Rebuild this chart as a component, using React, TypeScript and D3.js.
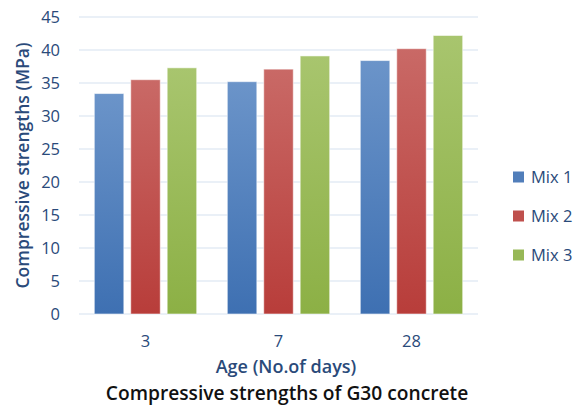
import React from "react";
import * as d3 from "d3";

const ages = ["3", "7", "28"];
const mixes = ["Mix 1", "Mix 2", "Mix 3"];
const mix1 = [33.4, 35.2, 38.4];
const mix2 = [35.5, 37.1, 40.2];
const mix3 = [37.3, 39.1, 42.2];
const yTicks = [0, 5, 10, 15, 20, 25, 30, 35, 40, 45];

const seriesValues = [mix1, mix2, mix3];
const topColors = ["#6b94c9", "#c96966", "#a8c56e"];
const bottomColors = ["#3e70b2", "#b83d3a", "#8cb045"];

const W = 574;
const H = 406;
const margin = { left: 79, right: 96, top: 17, bottom: 92 };
const textBlue = "#2a4a7a";
const font = "'Open Sans', 'Noto Sans', sans-serif";

export default function App() {
  const x0 = d3
    .scaleBand<string>()
    .domain(ages)
    .range([margin.left, W - margin.right])
    .paddingInner(0)
    .paddingOuter(0);
  const x1 = d3
    .scaleBand<string>()
    .domain(mixes)
    .range([0, x0.bandwidth()])
    .paddingInner(0.19)
    .paddingOuter(0.42);
  const y = d3
    .scaleLinear()
    .domain([0, 45])
    .range([H - margin.bottom, margin.top]);

  return (
    <svg
      width={W}
      height={H}
      style={{ position: "absolute", left: 0, top: 0, background: "#fff" }}
      fontFamily={font}
    >
      <defs>
        {mixes.map((m, i) => (
          <linearGradient key={m} id={`grad${i}`} x1="0" y1="0" x2="0" y2="1">
            <stop offset="0%" stopColor={topColors[i]} />
            <stop offset="100%" stopColor={bottomColors[i]} />
          </linearGradient>
        ))}
      </defs>

      {/* horizontal gridlines */}
      {yTicks.map((t) => (
        <line
          key={t}
          x1={margin.left}
          x2={W - margin.right}
          y1={y(t)}
          y2={y(t)}
          stroke="#d6e1ef"
          strokeWidth={1.2}
        />
      ))}

      {/* y tick labels */}
      {yTicks.map((t) => (
        <text
          key={t}
          x={60}
          y={y(t)}
          dy="0.36em"
          textAnchor="end"
          fontSize={16.5}
          fill={textBlue}
        >
          {t}
        </text>
      ))}

      {/* bars */}
      {ages.map((a, gi) => (
        <g key={a} transform={`translate(${x0(a)},0)`}>
          {mixes.map((m, si) => {
            const v = seriesValues[si][gi];
            return (
              <rect
                key={m}
                x={x1(m)}
                y={y(v)}
                width={x1.bandwidth()}
                height={y(0) - y(v)}
                fill={`url(#grad${si})`}
                stroke="#ffffff"
                strokeOpacity={0.55}
                strokeWidth={1}
              />
            );
          })}
        </g>
      ))}

      {/* x tick labels */}
      {ages.map((a) => (
        <text
          key={a}
          x={(x0(a) as number) + x0.bandwidth() / 2}
          y={341}
          dy="0.36em"
          textAnchor="middle"
          fontSize={16.5}
          fill={textBlue}
        >
          {a}
        </text>
      ))}

      {/* axis titles */}
      <text
        x={286}
        y={367}
        dy="0.36em"
        textAnchor="middle"
        fontSize={18}
        fontWeight={600}
        fill={textBlue}
      >
        Age (No.of days)
      </text>
      <text
        transform={`translate(23,${(y(0) + y(45)) / 2}) rotate(-90)`}
        dy="0.36em"
        textAnchor="middle"
        fontSize={17.5}
        fontWeight={600}
        fill={textBlue}
      >
        Compressive strengths (MPa)
      </text>

      {/* chart title */}
      <text
        x={287}
        y={393}
        dy="0.36em"
        textAnchor="middle"
        fontSize={19.2}
        fontWeight={600}
        fill="#111"
      >
        Compressive strengths of G30 concrete
      </text>

      {/* legend */}
      {mixes.map((m, i) => (
        <g key={m} transform={`translate(513,${177 + i * 39})`}>
          <rect x={0} y={-5.5} width={11} height={11} fill={bottomColors[i]} opacity={0.9} />
          <text x={18} y={0} dy="0.36em" fontSize={16.5} fill={textBlue}>
            {m}
          </text>
        </g>
      ))}
    </svg>
  );
}
